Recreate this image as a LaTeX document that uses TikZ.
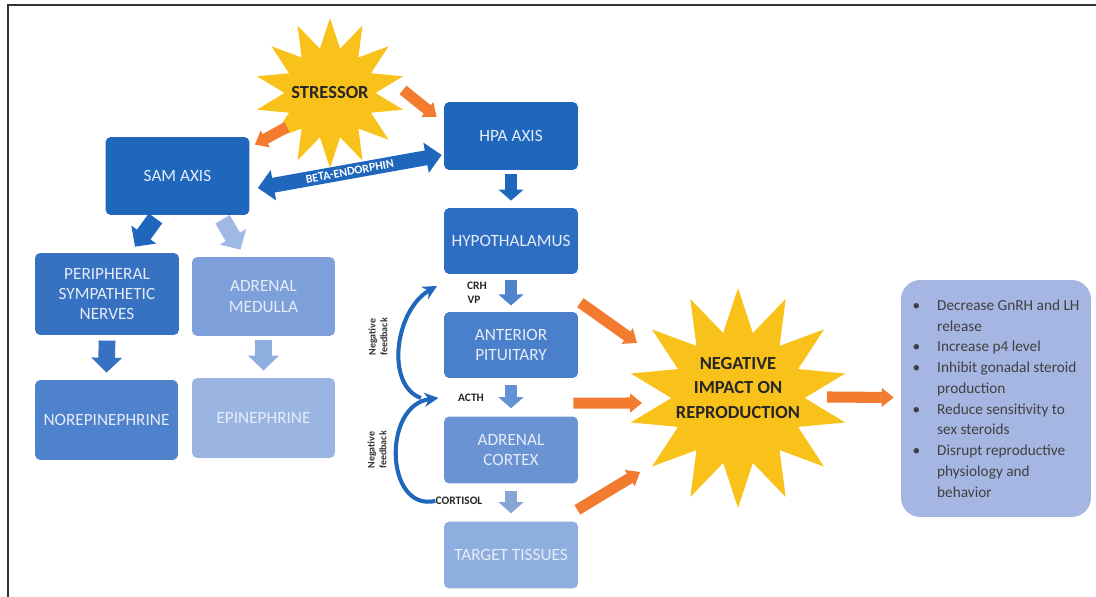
\documentclass[tikz,border=0pt]{standalone}
\usepackage{fontspec}
\setmainfont{Carlito}
\usetikzlibrary{shapes.geometric,arrows.meta}

\definecolor{axisblue}{HTML}{1F66BD}
\definecolor{hypblue}{HTML}{2E6EC2}
\definecolor{psnblue}{HTML}{3671C2}
\definecolor{apblue}{HTML}{4A7FCB}
\definecolor{norblue}{HTML}{4E82CD}
\definecolor{acblue}{HTML}{6A93D4}
\definecolor{amblue}{HTML}{7D9FDA}
\definecolor{ttblue}{HTML}{8FAEE0}
\definecolor{epiblue}{HTML}{9BB5E3}
\definecolor{outblue}{HTML}{A6B6E2}
\definecolor{boxtext}{HTML}{E6ECF7}
\definecolor{starfill}{HTML}{F9C21B}
\definecolor{orng}{HTML}{F27B2F}

\begin{document}
\begin{tikzpicture}[x=0.02cm, y=-0.02cm,
    box/.style = {rectangle, rounded corners=3pt, text=boxtext, align=center,
                  inner sep=0pt, font=\fontsize{9.8}{11.6}\selectfont},
    burst/.style = {star, star points=14, star point ratio=1.65, fill=starfill,
                    inner sep=0pt},
    bursttext/.style = {inner sep=0pt, align=center, text=black!85,
                    font=\bfseries\fontsize{10.5}{14}\selectfont},
    tag/.style = {inner sep=0pt, text=black!85, font=\bfseries\fontsize{6.5}{7}\selectfont},
    fbtag/.style = {inner sep=0pt, rotate=90, align=center, text=black!80,
                    font=\bfseries\fontsize{5.7}{6.7}\selectfont},
    midarr/.style = {line width=6.8pt, -{Triangle[length=6.3pt,width=14pt]}},
    sidearr/.style = {line width=9.5pt, -{Triangle[length=8.5pt,width=17pt]}},
    orangearr/.style = {draw=orng, line width=6.3pt, -{Triangle[length=6.8pt,width=10.5pt]}},
    fbarr/.style = {draw=axisblue, line width=2.3pt, -{Stealth[length=8pt,width=8pt]}}
  ]
  \useasboundingbox (0,0) rectangle (1096,597);
  \draw[black!80, line width=0.9pt] (8,597) -- (8,5) -- (1096,5);

  \node[box, fill=axisblue, minimum width=2.88cm, minimum height=1.56cm] (sam) at (177.5,176) {SAM AXIS};
  \node[box, fill=axisblue, minimum width=2.68cm, minimum height=1.36cm] (hpa) at (511,136) {HPA AXIS};
  \node[box, fill=hypblue, minimum width=2.68cm, minimum height=1.32cm] (hyp) at (511,241) {HYPOTHALAMUS};
  \node[box, fill=apblue, minimum width=2.68cm, minimum height=1.32cm] (ap) at (511,345) {ANTERIOR\\PITUITARY};
  \node[box, fill=acblue, minimum width=2.68cm, minimum height=1.34cm] (ac) at (511,450) {ADRENAL\\CORTEX};
  \node[box, fill=ttblue, minimum width=2.68cm, minimum height=1.34cm] (tt) at (511,555) {TARGET TISSUES};
  \node[box, fill=psnblue, minimum width=2.88cm, minimum height=1.64cm] (psn) at (107,294) {PERIPHERAL\\SYMPATHETIC\\NERVES};
  \node[box, fill=amblue, minimum width=2.86cm, minimum height=1.58cm] (am) at (263.5,296.5) {ADRENAL\\MEDULLA};
  \node[box, fill=norblue, minimum width=2.86cm, minimum height=1.6cm] (nor) at (106.5,420) {NOREPINEPHRINE};
  \node[box, fill=epiblue, minimum width=2.86cm, minimum height=1.6cm] (epi) at (263.5,418) {EPINEPHRINE};

  \node[box, fill=outblue, rounded corners=11pt, text=black!75, align=left,
        minimum width=3.8cm, minimum height=4.74cm,
        font=\fontsize{8.7}{11.8}\selectfont] (out) at (996,398.5)
       {\makebox[14pt][l]{\textbullet}Decrease GnRH and LH\\
        \hspace*{14pt}release\\
        \makebox[14pt][l]{\textbullet}Increase p4 level\\
        \makebox[14pt][l]{\textbullet}Inhibit gonadal steroid\\
        \hspace*{14pt}production\\
        \makebox[14pt][l]{\textbullet}Reduce sensitivity to\\
        \hspace*{14pt}sex steroids\\
        \makebox[14pt][l]{\textbullet}Disrupt reproductive\\
        \hspace*{14pt}physiology and\\
        \hspace*{14pt}behavior};

  \node[burst, minimum size=3cm] (stressor) at (330,93) {};
  \node[bursttext] (stressortext) at (stressor.center) {STRESSOR};
  \node[burst, minimum size=4.4cm] (impact) at (738,398) {};
  \node[bursttext] (impacttext) at ([yshift=5.7pt]impact.center) {NEGATIVE\\IMPACT ON\\REPRODUCTION};

  \node[tag] (crh) at (477,286) {CRH};
  \node[tag] (vp) at (474,300) {VP};
  \node[tag] (acth) at (471,398) {ACTH};
  \node[tag] (cortisol) at (459,501) {CORTISOL};
  \node[fbtag] (fbup) at (378,337) {Negative\\feedback};
  \node[fbtag] (fblow) at (377,450) {Negative\\feedback};

  \draw[midarr, axisblue] ([yshift=-2pt]hpa.south) -- ([yshift=4pt]hyp.north);
  \draw[midarr, color=hypblue!85!white] ([yshift=-3pt]hyp.south) -- ([yshift=3.5pt]ap.north);
  \draw[midarr, color=apblue!85!white] ([yshift=-4pt]ap.south) -- ([yshift=4.5pt]ac.north);
  \draw[midarr, color=ttblue!95!black] ([yshift=-4pt]ac.south) -- ([yshift=4.5pt]tt.north);
  \draw[sidearr, axisblue] ([shift={(-22,3)}]sam.south) -- ([shift={(28,-6)}]psn.north);
  \draw[sidearr, color=epiblue!95!white] ([shift={(45,4)}]sam.south) -- ([shift={(-23,-7)}]am.north);
  \draw[sidearr, color=psnblue] ([yshift=-3pt]psn.south) -- ([yshift=4pt]nor.north);
  \draw[sidearr, color=ttblue] ([yshift=-2pt]am.south) -- ([yshift=4pt]epi.north);

  \draw[axisblue, line width=8.5pt, {Triangle[length=9pt,width=17pt]}-{Triangle[length=9pt,width=17pt]}]
    ([shift={(8,12)}]sam.east) -- node[sloped, text=white, inner sep=0pt,
      font=\bfseries\fontsize{6.8}{7}\selectfont] {BETA-ENDORPHIN} ([shift={(-2,19)}]hpa.west);

  \draw[orangearr] ([shift={(73,-3)}]stressor.center) -- ([shift={(-7,-19)}]hpa.west);
  \draw[orangearr] ([shift={(-43,34)}]stressor.center) -- ([shift={(5,8)}]sam.north east);
  \draw[orangearr] ([shift={(2,-9)}]ap.north east) -- ([shift={(-101,-55)}]impact.center);
  \draw[orangearr] ([shift={(-5,-13)}]ac.north east) -- ([shift={(-96,5)}]impact.center);
  \draw[orangearr] ([shift={(-1,26)}]ac.south east) -- ([shift={(-98,74)}]impact.center);
  \draw[orangearr] ([shift={(89,-1)}]impact.center) -- ([shift={(-7,-1)}]out.west);

  \draw[fbarr] (cortisol.west) .. controls (385,512) and (382,405) .. ([xshift=-11pt]acth.west);
  \draw[fbarr] ([xshift=-21pt]acth.west) .. controls (385,385) and (395,310) .. ([xshift=-17pt]crh.west);
\end{tikzpicture}
\end{document}
